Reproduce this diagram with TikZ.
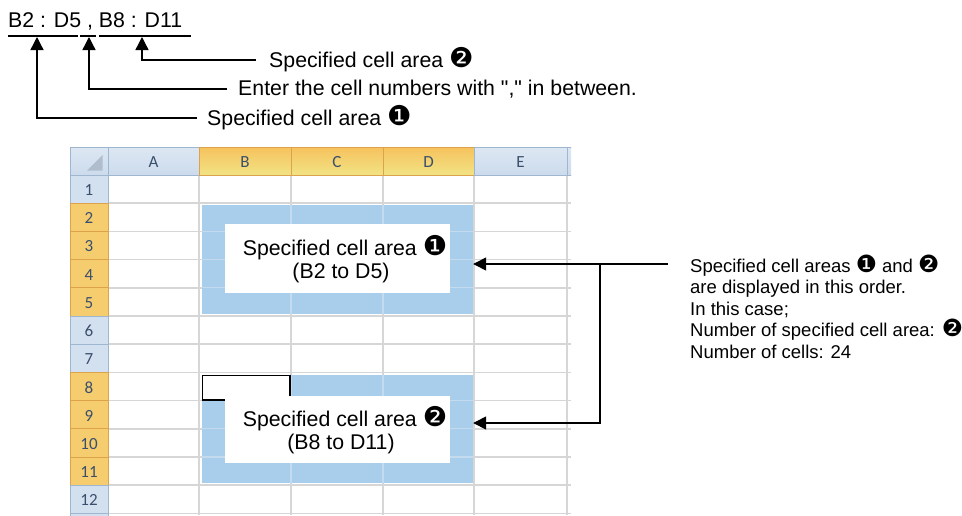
\documentclass[tikz,border=0pt]{standalone}
\usepackage{fontspec}
\usepackage{graphicx}
\setmainfont{Liberation Sans}
\newfontfamily\hdrfont{Carlito}
\newfontfamily\djv{DejaVu Sans}
\usetikzlibrary{arrows.meta}
\definecolor{selblue}{HTML}{A8CEEC}
\definecolor{gridgray}{HTML}{D6D6D6}
\definecolor{hdrtop}{HTML}{DDE7F3}
\definecolor{hdrbot}{HTML}{CCDBEC}
\definecolor{hdrflat}{HTML}{D3E0EF}
\definecolor{hdrline}{HTML}{9EB6CE}
\definecolor{seltop}{HTML}{F6C25E}
\definecolor{selbot}{HTML}{F2E384}
\definecolor{selrow}{HTML}{F5CC6E}
\definecolor{selline}{HTML}{DCA24C}
\definecolor{hdrtext}{HTML}{3A4F6C}
\definecolor{innergrid}{HTML}{C4DBEF}
\definecolor{cornertri}{HTML}{AFBDCC}
\newcommand\cnum[1]{\scalebox{1.28}{\djv #1}}
\newcommand\sq{\XeTeXglyph\XeTeXcharglyph"22\relax}
\begin{document}
\begin{tikzpicture}[x=1pt,y=-1pt,
  txt/.style={inner sep=0pt, font=\fontsize{21.3}{23}\selectfont},
  note/.style={inner sep=0pt, anchor=base west, font=\fontsize{18.5}{21.5}\selectfont},
  arr/.style={line width=1.4pt, -{Triangle[length=13pt,width=13pt]}},
  uline/.style={line width=1.3pt},
  hdr/.style={font=\hdrfont\fontsize{17}{17}\selectfont, text=hdrtext, inner sep=0pt},
  grid line/.style={draw=gridgray, line width=1.5pt},
  inner line/.style={draw=innergrid, line width=1.3pt},
  selarea/.style={fill=selblue, inner sep=0pt, minimum width=271pt, minimum height=108.5pt},
  textbox/.style={fill=white, inner sep=0pt, minimum width=225pt}
]
\useasboundingbox (0,0) rectangle (962,515);
\fill[white] (0,0) rectangle (962,515);

% ---------- spreadsheet ----------
\begin{scope}
\clip (69,146) rectangle (571,515);
% grid
\foreach \x in {199,291,383,474,567} \draw[grid line] (\x,175) -- (\x,515);
\foreach \i in {1,...,12} \draw[grid line] (108,{175+28.2*\i}) -- (571,{175+28.2*\i});
% selections
\node[selarea] (sel1) at (337.5,259.45) {};
\node[selarea] (sel2) at (337.5,428.8) {};
\begin{scope}
\clip (202,205.2) rectangle (473,313.7);
\foreach \y in {231.4,259.6,287.8} \draw[inner line] (202,\y) -- (473,\y);
\foreach \x in {291,383} \draw[inner line] (\x,205) -- (\x,314);
\end{scope}
\begin{scope}
\clip (202,374.6) rectangle (473,483);
\foreach \y in {400.6,428.8,457} \draw[inner line] (202,\y) -- (473,\y);
\foreach \x in {291,383} \draw[inner line] (\x,374) -- (\x,484);
\end{scope}
% active cell
\filldraw[fill=white, draw=black, line width=1.3pt] (202.6,375.2) rectangle (290,400);
% column headers
\shade[top color=hdrtop, bottom color=hdrbot, draw=hdrline, line width=1pt] (70,147) rectangle (108,175);
\fill[cornertri] (102.5,170.5) -- (102.5,155) -- (87,170.5) -- cycle;
\shade[top color=hdrtop, bottom color=hdrbot, draw=hdrline, line width=1pt] (108,147) rectangle (199,175);
\shade[top color=seltop, bottom color=selbot, draw=selline, line width=1pt] (199,147) rectangle (291,175);
\shade[top color=seltop, bottom color=selbot, draw=selline, line width=1pt] (291,147) rectangle (383,175);
\shade[top color=seltop, bottom color=selbot, draw=selline, line width=1pt] (383,147) rectangle (474,175);
\shade[top color=hdrtop, bottom color=hdrbot, draw=hdrline, line width=1pt] (474,147) rectangle (567,175);
\shade[top color=hdrtop, bottom color=hdrbot, draw=hdrline, line width=1pt] (567,147) rectangle (600,175);
\node[hdr] (cA) at (153.5,162) {A};
\node[hdr] (cB) at (245,162) {B};
\node[hdr] (cC) at (337,162) {C};
\node[hdr] (cD) at (428.5,162) {D};
\node[hdr] (cE) at (520.5,162) {E};
% row headers
\foreach \i in {1,...,13} {
  \pgfmathsetmacro\ya{175+28.2*(\i-1)}
  \pgfmathsetmacro\yb{175+28.2*\i}
  \pgfmathtruncatemacro\sel{((\i>=2)&&(\i<=5))||((\i>=8)&&(\i<=11))}
  \ifnum\sel=1
    \filldraw[fill=selrow, draw=selline, line width=1pt] (70,\ya) rectangle (108,\yb);
  \else
    \filldraw[fill=hdrflat, draw=hdrline, line width=1pt] (70,\ya) rectangle (108,\yb);
  \fi
  \ifnum\i<13
    \node[hdr] (r\i) at (89,{(\ya+\yb)/2+1}) {\i};
  \fi
}
\end{scope}

% ---------- text boxes in the selections ----------
\node[textbox, minimum height=69pt] (box1) at (337.5,258.5) {};
\node[txt, anchor=base] (t1a) at (345,255) {Specified cell area \cnum{❶}};
\node[txt, anchor=base] (t1b) at (341,278) {(B2 to D5)};
\node[textbox, minimum height=67pt] (box2) at (337.5,429.5) {};
\node[txt, anchor=base] (t2a) at (345,426) {Specified cell area \cnum{❷}};
\node[txt, anchor=base] (t2b) at (341,449) {(B8 to D11)};

% ---------- formula and top labels ----------
\node[txt, anchor=base west] (formula) at (8,27) {B2 : D5 , B8 : D11};
\draw[uline] (8,36) -- (78,36);
\draw[line width=2.4pt] (80,36) -- (96,36);
\draw[uline] (99,36) -- (191,36);
\coordinate (u1) at (37,37);
\coordinate (u2) at (89,37);
\coordinate (u3) at (142,37);

\node[txt, anchor=west] (lab2) at (269,60) {Specified cell area \cnum{❷}};
\node[txt, anchor=west] (lab3) at (238,89) {Enter the cell numbers with \sq,\sq{} in between.};
\node[txt, anchor=west] (lab1) at (207,118) {Specified cell area \cnum{❶}};
\draw[arr] ([xshift=-13pt]lab2.west) -| (u3);
\draw[arr] ([xshift=-11pt]lab3.west) -| (u2);
\draw[arr] ([xshift=-10pt]lab1.west) -| (u1);

% ---------- right note ----------
\node[note] (n1) at (690,272) {Specified cell areas \cnum{❶} and \cnum{❷}};
\node[note] (n2) at (690,293.5) {are displayed in this order.};
\node[note] (n3) at (690,315) {In this case;};
\node[note] (n4) at (690,336.5) {Number of specified cell area: \cnum{❷}};
\node[note] (n5) at (690,358) {Number of cells: 24};

\coordinate (rt) at (668,264);
\coordinate (j1) at (600,264);
\coordinate (j2) at (600,423);
\draw[arr] (rt) -- (rt -| sel1.east);
\draw[arr] (j1) -- (j2) -- (j2 -| sel2.east);
\end{tikzpicture}
\end{document}
